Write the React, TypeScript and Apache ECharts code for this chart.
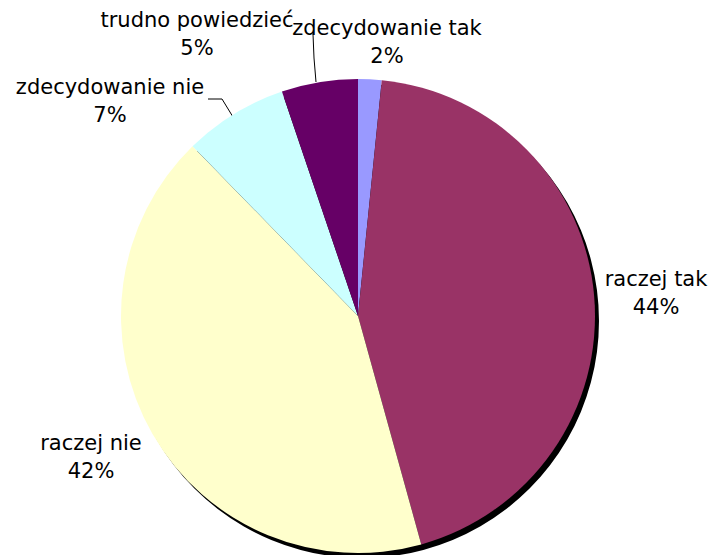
import React, { useEffect, useRef } from "react";
import * as echarts from "echarts";

const categories = ["zdecydowanie tak", "raczej tak", "raczej nie", "zdecydowanie nie", "trudno powiedzieć"];
const values = [1.6, 44.1, 42.0, 7.1, 5.2];
const colors = ["#9999FF", "#993366", "#FFFFCC", "#CCFFFF", "#660066"];

export default function App() {
  const ref = useRef<HTMLDivElement>(null);
  useEffect(() => {
    if (!ref.current) return;
    const chart = echarts.init(ref.current, null, { renderer: "svg" });
    const labelPos: Record<number, any> = {
      0: { x: 387, y: 42 },
      1: { x: 656, y: 293 },
      2: { x: 91, y: 457 },
      3: { x: 110, y: 101, labelLinePoints: [[233, 117], [222, 99], [208, 99]] },
      4: { x: 197, y: 34, labelLinePoints: [[316, 82], [314, 58], [313, 34]] },
    };
    chart.setOption({
      animation: false,
      backgroundColor: "#ffffff",
      series: [
        {
          type: "pie",
          silent: true,
          center: [362, 321],
          radius: 237,
          z: 1,
          label: { show: false },
          labelLine: { show: false },
          data: [{ value: 1, name: "shadow", itemStyle: { color: "#000000" } }],
        },
        {
          type: "pie",
          center: [358, 316],
          radius: 237,
          startAngle: 90,
          clockwise: true,
          z: 2,
          percentPrecision: 0,
          avoidLabelOverlap: false,
          itemStyle: { borderWidth: 0 },
          label: {
            show: true,
            position: "outside",
            formatter: "{b}\n{d}%",
            color: "#000000",
            fontFamily: "DejaVu Sans, Verdana, sans-serif",
            fontSize: 21,
            lineHeight: 28,
            align: "center",
          },
          labelLine: { show: true, lineStyle: { color: "#000000", width: 1 } },
          labelLayout: (params: any) => {
            const p = labelPos[params.dataIndex];
            return { x: p.x, y: p.y, align: "center", verticalAlign: "middle", labelLinePoints: p.labelLinePoints };
          },
          data: categories.map((c, i) => ({
            name: c,
            value: values[i],
            itemStyle: { color: colors[i] },
            labelLine: { show: i >= 3 },
          })),
        },
      ],
    });
    return () => chart.dispose();
  }, []);
  return <div ref={ref} style={{ position: "fixed", left: 0, top: 0, width: 715, height: 555 }} />;
}
